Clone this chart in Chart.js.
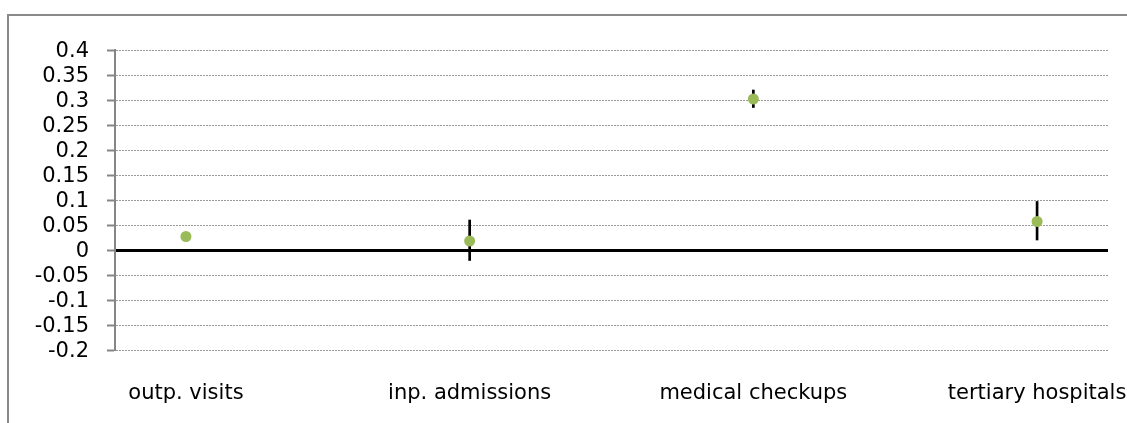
<!DOCTYPE html>
<html lang="en">
<head>
    <meta charset="UTF-8">
    <title>Estimates</title>
    <style>
        html, body { margin: 0; padding: 0; background: #fff; overflow: hidden; }
        #frame { position: absolute; left: 7px; top: 14px; width: 1300px; height: 600px; border: 2px solid #8a8a8a; }
        #chart { position: absolute; left: 0; top: 0; }
    </style>
</head>
<body>
<div id="frame"></div>
<canvas id="chart" width="1127" height="423"></canvas>

<script src="https://cdn.jsdelivr.net/npm/chart.js"></script>
<script>
    // categories sit at x = 1..4 on a 0.75 - 4.25 axis
    const categories = ['outp. visits', 'inp. admissions', 'medical checkups', 'tertiary hospitals'];
    const xPositions = [1, 2, 3, 4];
    const estimates = [0.027, 0.018, 0.302, 0.057];
    const ciLow = [0.022, -0.021, 0.285, 0.02];
    const ciHigh = [0.033, 0.06, 0.32, 0.097];
    const yTicks = [-0.2, -0.15, -0.1, -0.05, 0, 0.05, 0.1, 0.15, 0.2, 0.25, 0.3, 0.35, 0.4];

    Chart.defaults.font.family = 'DejaVu Sans';
    Chart.defaults.font.size = 21;
    Chart.defaults.color = '#000';

    const pointData = xPositions.map((x, i) => ({x: x, y: estimates[i]}));
    const barData = xPositions.map((x, i) => ({x: x, y: [ciLow[i], ciHigh[i]]}));

    new Chart(document.getElementById('chart'), {
        type: 'bar',
        data: {
            datasets: [
                {
                    type: 'scatter',
                    data: pointData,
                    order: 0,
                    pointRadius: 5.5,
                    pointHoverRadius: 5.5,
                    pointBackgroundColor: '#9BBB59',
                    pointBorderColor: '#9BBB59',
                    pointBorderWidth: 0
                },
                {
                    type: 'bar',
                    data: barData,
                    order: 1,
                    barThickness: 2,
                    backgroundColor: '#000',
                    borderWidth: 0
                }
            ]
        },
        options: {
            responsive: false,
            animation: false,
            layout: { padding: { top: 50, right: 19, bottom: 0, left: 0 } },
            plugins: { legend: { display: false }, tooltip: { enabled: false } },
            scales: {
                x: {
                    type: 'linear',
                    min: 0.75,
                    max: 4.25,
                    offset: false,
                    grid: { display: false, offset: false },
                    border: { display: false },
                    afterBuildTicks: s => { s.ticks = xPositions.map(v => ({value: v})); },
                    ticks: {
                        padding: 23,
                        maxRotation: 0,
                        autoSkip: false,
                        callback: (v, i) => categories[i]
                    },
                    afterFit: s => { s.height = 73; s.paddingLeft = 0; s.paddingRight = 0; }
                },
                y: {
                    min: -0.2,
                    max: 0.4,
                    afterBuildTicks: s => { s.ticks = yTicks.map(v => ({value: v})); },
                    ticks: {
                        padding: 18,
                        labelOffset: 1.5,
                        autoSkip: false,
                        callback: v => String(v)
                    },
                    grid: {
                        color: ctx => ctx.tick && ctx.tick.value === 0 ? '#000' : '#9a9a9a',
                        lineWidth: ctx => ctx.tick && ctx.tick.value === 0 ? 3 : 1,
                        tickColor: '#868686',
                        tickWidth: 2,
                        tickLength: 8
                    },
                    border: {
                        color: '#868686',
                        width: 2,
                        dash: ctx => ctx.tick && ctx.tick.value === 0 ? [] : [2, 1]
                    },
                    afterFit: s => { s.width = 115; s.paddingTop = 0; s.paddingBottom = 0; }
                }
            }
        }
    });
</script>
</body>
</html>
